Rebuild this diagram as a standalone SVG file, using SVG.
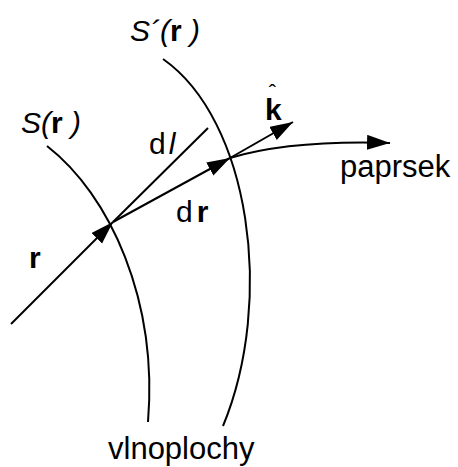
<svg xmlns="http://www.w3.org/2000/svg" width="458" height="467" viewBox="0 0 458 467">
  <style>
    .ln { fill: none; stroke: #000; stroke-width: 2; }
    .t { font-family: "Liberation Sans", Arial, sans-serif; font-size: 30px; fill: #000; }
    .w { font-size: 31px; }
    .it { font-style: italic; }
    .b { font-weight: bold; }
  </style>
  <defs>
    <marker id="ah" markerUnits="userSpaceOnUse" markerWidth="26" markerHeight="16" refX="23" refY="7.5" orient="auto">
      <path d="M0,0 L23,7.5 L0,15 z" fill="#000"/>
    </marker>
  </defs>
  <rect width="458" height="467" fill="#fff"/>
  <g id="wavefront-S">
    <path class="ln" d="M47,146 C110,195 158,300 148,422"/>
    <text class="t" x="21" y="133"><tspan class="it">S(</tspan><tspan class="b">r</tspan><tspan class="it"> )</tspan></text>
  </g>
  <g id="wavefront-S2">
    <path class="ln" d="M163,59 C250,120 275,300 223,426"/>
    <text class="t" x="130" y="41"><tspan class="it">S´(</tspan><tspan class="b">r</tspan><tspan class="it"> )</tspan></text>
  </g>
  <g id="connectors">
    <path class="ln" d="M11,324 L113,222" marker-end="url(#ah)"/>
    <path class="ln" d="M113,222 L208,128"/>
    <path class="ln" d="M113,222 L230,158" marker-end="url(#ah)"/>
    <path class="ln" d="M230,158 L293,122" marker-end="url(#ah)"/>
    <path class="ln" d="M230,158 Q290,140 390,143" marker-end="url(#ah)"/>
  </g>
  <g id="labels">
    <text class="t" x="149" y="154">d<tspan class="it" dx="3">l</tspan></text>
    <text class="t" x="176" y="222">d<tspan class="b" dx="4">r</tspan></text>
    <text class="t b" x="29" y="268">r</text>
    <text class="t" x="265" y="120"><tspan class="b">k</tspan><tspan dx="-13" dy="-20" font-size="22">ˆ</tspan></text>
    <text class="t w" x="340" y="177">paprsek</text>
    <text class="t w" x="108" y="459">vlnoplochy</text>
  </g>
</svg>
